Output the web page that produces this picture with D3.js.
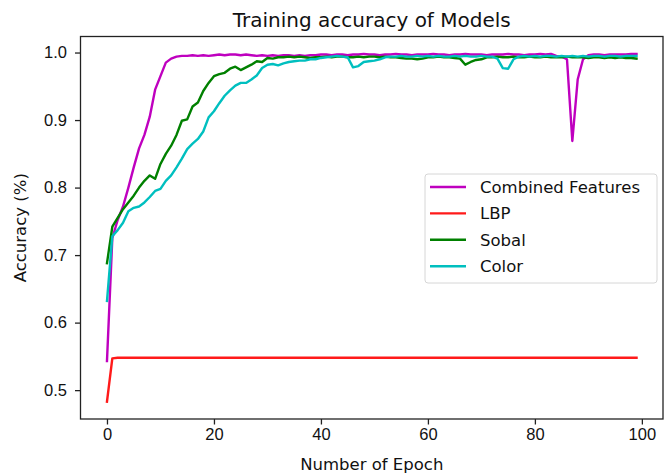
<!DOCTYPE html>
<html lang="en">
<head>
  <meta charset="UTF-8">
  <title>Training accuracy of Models</title>
  <script src="https://d3js.org/d3.v7.min.js"></script>
  <style>
    body {
      margin: 0;
      background: #fff;
    }

    svg {
      display: block;
      font-family: "DejaVu Sans", sans-serif;
    }

    .line {
      fill: none;
      stroke-width: 2.4px;
      stroke-linejoin: round;
      stroke-linecap: square;
    }

    .axis text {
      font-size: 16.5px;
      fill: #111;
    }

    .legend text {
      font-size: 16.5px;
      fill: #111;
    }
  </style>
</head>
<body>
  <svg width="669" height="476"></svg>

  <script>
    const epochs = [
      0, 1, 2, 3, 4, 5, 6, 7, 8, 9, 10, 11, 12, 13, 14, 15, 16, 17, 18, 19,
      20, 21, 22, 23, 24, 25, 26, 27, 28, 29, 30, 31, 32, 33, 34, 35, 36, 37, 38, 39,
      40, 41, 42, 43, 44, 45, 46, 47, 48, 49, 50, 51, 52, 53, 54, 55, 56, 57, 58, 59,
      60, 61, 62, 63, 64, 65, 66, 67, 68, 69, 70, 71, 72, 73, 74, 75, 76, 77, 78, 79,
      80, 81, 82, 83, 84, 85, 86, 87, 88, 89, 90, 91, 92, 93, 94, 95, 96, 97, 98, 99
    ];

    const combined = [
      0.543, 0.725, 0.752, 0.772, 0.800, 0.830, 0.858, 0.878, 0.905, 0.945,
      0.965, 0.985, 0.991, 0.994, 0.995, 0.995, 0.996, 0.995, 0.996, 0.995,
      0.996, 0.997, 0.996, 0.997, 0.997, 0.996, 0.997, 0.996, 0.995, 0.996,
      0.995, 0.996, 0.995, 0.996, 0.996, 0.995, 0.996, 0.995, 0.996, 0.996,
      0.997, 0.997, 0.996, 0.997, 0.997, 0.996, 0.997, 0.997, 0.998, 0.997,
      0.997, 0.996, 0.997, 0.997, 0.998, 0.997, 0.997, 0.996, 0.997, 0.997,
      0.997, 0.998, 0.997, 0.997, 0.996, 0.997, 0.997, 0.998, 0.997, 0.997,
      0.997, 0.996, 0.997, 0.997, 0.997, 0.998, 0.997, 0.997, 0.996, 0.997,
      0.997, 0.998, 0.997, 0.998, 0.995, 0.994, 0.990, 0.869, 0.960, 0.990,
      0.996, 0.997, 0.997, 0.996, 0.997, 0.997, 0.997, 0.997, 0.998, 0.998
    ];

    const lbp = [
      0.483, 0.547, 0.548, 0.548, 0.548, 0.548, 0.548, 0.548, 0.548, 0.548,
      0.548, 0.548, 0.548, 0.548, 0.548, 0.548, 0.548, 0.548, 0.548, 0.548,
      0.548, 0.548, 0.548, 0.548, 0.548, 0.548, 0.548, 0.548, 0.548, 0.548,
      0.548, 0.548, 0.548, 0.548, 0.548, 0.548, 0.548, 0.548, 0.548, 0.548,
      0.548, 0.548, 0.548, 0.548, 0.548, 0.548, 0.548, 0.548, 0.548, 0.548,
      0.548, 0.548, 0.548, 0.548, 0.548, 0.548, 0.548, 0.548, 0.548, 0.548,
      0.548, 0.548, 0.548, 0.548, 0.548, 0.548, 0.548, 0.548, 0.548, 0.548,
      0.548, 0.548, 0.548, 0.548, 0.548, 0.548, 0.548, 0.548, 0.548, 0.548,
      0.548, 0.548, 0.548, 0.548, 0.548, 0.548, 0.548, 0.548, 0.548, 0.548,
      0.548, 0.548, 0.548, 0.548, 0.548, 0.548, 0.548, 0.548, 0.548, 0.548
    ];

    const sobal = [
      0.688, 0.742, 0.755, 0.768, 0.778, 0.788, 0.800, 0.810, 0.818, 0.813,
      0.835, 0.850, 0.862, 0.878, 0.899, 0.901, 0.920, 0.926, 0.943, 0.955,
      0.965, 0.968, 0.970, 0.976, 0.979, 0.974, 0.978, 0.982, 0.987, 0.986,
      0.992, 0.991, 0.993, 0.993, 0.994, 0.993, 0.994, 0.993, 0.992, 0.993,
      0.993, 0.994, 0.993, 0.994, 0.994, 0.993, 0.993, 0.994, 0.993, 0.994,
      0.994, 0.993, 0.994, 0.993, 0.993, 0.992, 0.991, 0.991, 0.990, 0.991,
      0.993, 0.993, 0.994, 0.993, 0.993, 0.992, 0.991, 0.982, 0.986, 0.989,
      0.990, 0.993, 0.993, 0.994, 0.993, 0.993, 0.994, 0.993, 0.993, 0.994,
      0.993, 0.993, 0.994, 0.993, 0.993, 0.993, 0.994, 0.993, 0.993, 0.993,
      0.992, 0.993, 0.993, 0.992, 0.993, 0.992, 0.993, 0.992, 0.992, 0.991
    ];

    const color = [
      0.632, 0.728, 0.737, 0.748, 0.765, 0.770, 0.772, 0.778, 0.786, 0.795,
      0.798, 0.810, 0.818, 0.830, 0.843, 0.857, 0.865, 0.872, 0.883, 0.904,
      0.913, 0.925, 0.936, 0.944, 0.951, 0.955, 0.955, 0.960, 0.966, 0.977,
      0.982, 0.983, 0.981, 0.984, 0.986, 0.987, 0.988, 0.988, 0.990, 0.990,
      0.992, 0.993, 0.994, 0.995, 0.994, 0.993, 0.978, 0.980, 0.986, 0.987,
      0.988, 0.990, 0.993, 0.994, 0.994, 0.995, 0.994, 0.994, 0.995, 0.994,
      0.995, 0.994, 0.995, 0.994, 0.994, 0.995, 0.994, 0.995, 0.994, 0.994,
      0.995, 0.994, 0.994, 0.991, 0.977, 0.976, 0.990, 0.994, 0.995, 0.994,
      0.995, 0.994, 0.995, 0.995, 0.994, 0.995, 0.994, 0.995, 0.994, 0.995,
      0.994, 0.995, 0.995, 0.994, 0.995, 0.995, 0.994, 0.995, 0.995, 0.995
    ];

    const seriesNames = ["Combined Features", "LBP", "Sobal", "Color"];
    const seriesValues = [combined, lbp, sobal, color];
    const seriesColors = ["#bf00bf", "#ff1a1a", "#008000", "#00bfbf"];

    const xTicks = [0, 20, 40, 60, 80, 100];
    const yTicks = [0.5, 0.6, 0.7, 0.8, 0.9, 1.0];

    const svg = d3.select("svg");
    const margin = { top: 36.5, right: 6, bottom: 57, left: 80.5 };
    const W = +svg.attr("width"), H = +svg.attr("height");

    // matplotlib-like 5% padding around the data
    const xMin = d3.min(epochs), xMax = d3.max(epochs);
    const allVals = seriesValues.flat();
    const yMin = d3.min(allVals), yMax = d3.max(allVals);
    const xPad = (xMax - xMin) * 0.05, yPad = (yMax - yMin) * 0.05;

    const x = d3.scaleLinear()
      .domain([xMin - xPad, xMax + xPad])
      .range([margin.left, W - margin.right]);
    const y = d3.scaleLinear()
      .domain([yMin - yPad, yMax + yPad])
      .range([H - margin.bottom, margin.top]);

    // Axes
    const xAxis = svg.append("g")
      .attr("class", "axis")
      .attr("transform", `translate(0,${H - margin.bottom})`)
      .call(d3.axisBottom(x).tickValues(xTicks).tickFormat(d3.format("d")).tickSize(5.5).tickPadding(4));

    const yAxis = svg.append("g")
      .attr("class", "axis")
      .attr("transform", `translate(${margin.left},0)`)
      .call(d3.axisLeft(y).tickValues(yTicks).tickFormat(d3.format(".1f")).tickSize(5.5).tickPadding(8));

    [xAxis, yAxis].forEach(g => {
      g.select(".domain").remove();
      g.selectAll(".tick line").attr("stroke", "#222").attr("stroke-width", 1.3);
    });

    // Lines
    const line = d3.line()
      .x((d, i) => x(epochs[i]))
      .y(d => y(d));

    seriesValues.forEach((vals, k) => {
      svg.append("path")
        .datum(vals)
        .attr("class", "line")
        .attr("stroke", seriesColors[k])
        .attr("d", line);
    });

    // Frame
    svg.append("rect")
      .attr("x", margin.left)
      .attr("y", margin.top)
      .attr("width", W - margin.right - margin.left)
      .attr("height", H - margin.bottom - margin.top)
      .attr("fill", "none")
      .attr("stroke", "#222")
      .attr("stroke-width", 1.3);

    // Titles
    const cx = (margin.left + W - margin.right) / 2;
    svg.append("text")
      .attr("x", cx)
      .attr("y", 27)
      .attr("text-anchor", "middle")
      .attr("fill", "#111")
      .style("font-size", "20px")
      .text("Training accuracy of Models");

    svg.append("text")
      .attr("x", cx)
      .attr("y", 470)
      .attr("text-anchor", "middle")
      .attr("fill", "#111")
      .style("font-size", "16.5px")
      .text("Number of Epoch");

    svg.append("text")
      .attr("transform", `translate(26,${(margin.top + H - margin.bottom) / 2}) rotate(-90)`)
      .attr("text-anchor", "middle")
      .attr("fill", "#111")
      .style("font-size", "16.5px")
      .text("Accuracy (%)");

    // Legend
    const legend = svg.append("g").attr("class", "legend");
    legend.append("rect")
      .attr("x", 425)
      .attr("y", 174)
      .attr("width", 232)
      .attr("height", 109)
      .attr("rx", 3)
      .attr("fill", "#fff")
      .attr("fill-opacity", 0.8)
      .attr("stroke", "#d6d6d6");

    const items = legend.selectAll(".item")
      .data(seriesNames)
      .enter().append("g")
      .attr("class", "item")
      .attr("transform", (d, i) => `translate(0,${187 + i * 26.4})`);

    items.append("line")
      .attr("x1", 430).attr("x2", 466)
      .attr("stroke", (d, i) => seriesColors[i])
      .attr("stroke-width", 2.4);

    items.append("text")
      .attr("x", 480)
      .attr("y", 6)
      .text(d => d);
  </script>
</body>
</html>
